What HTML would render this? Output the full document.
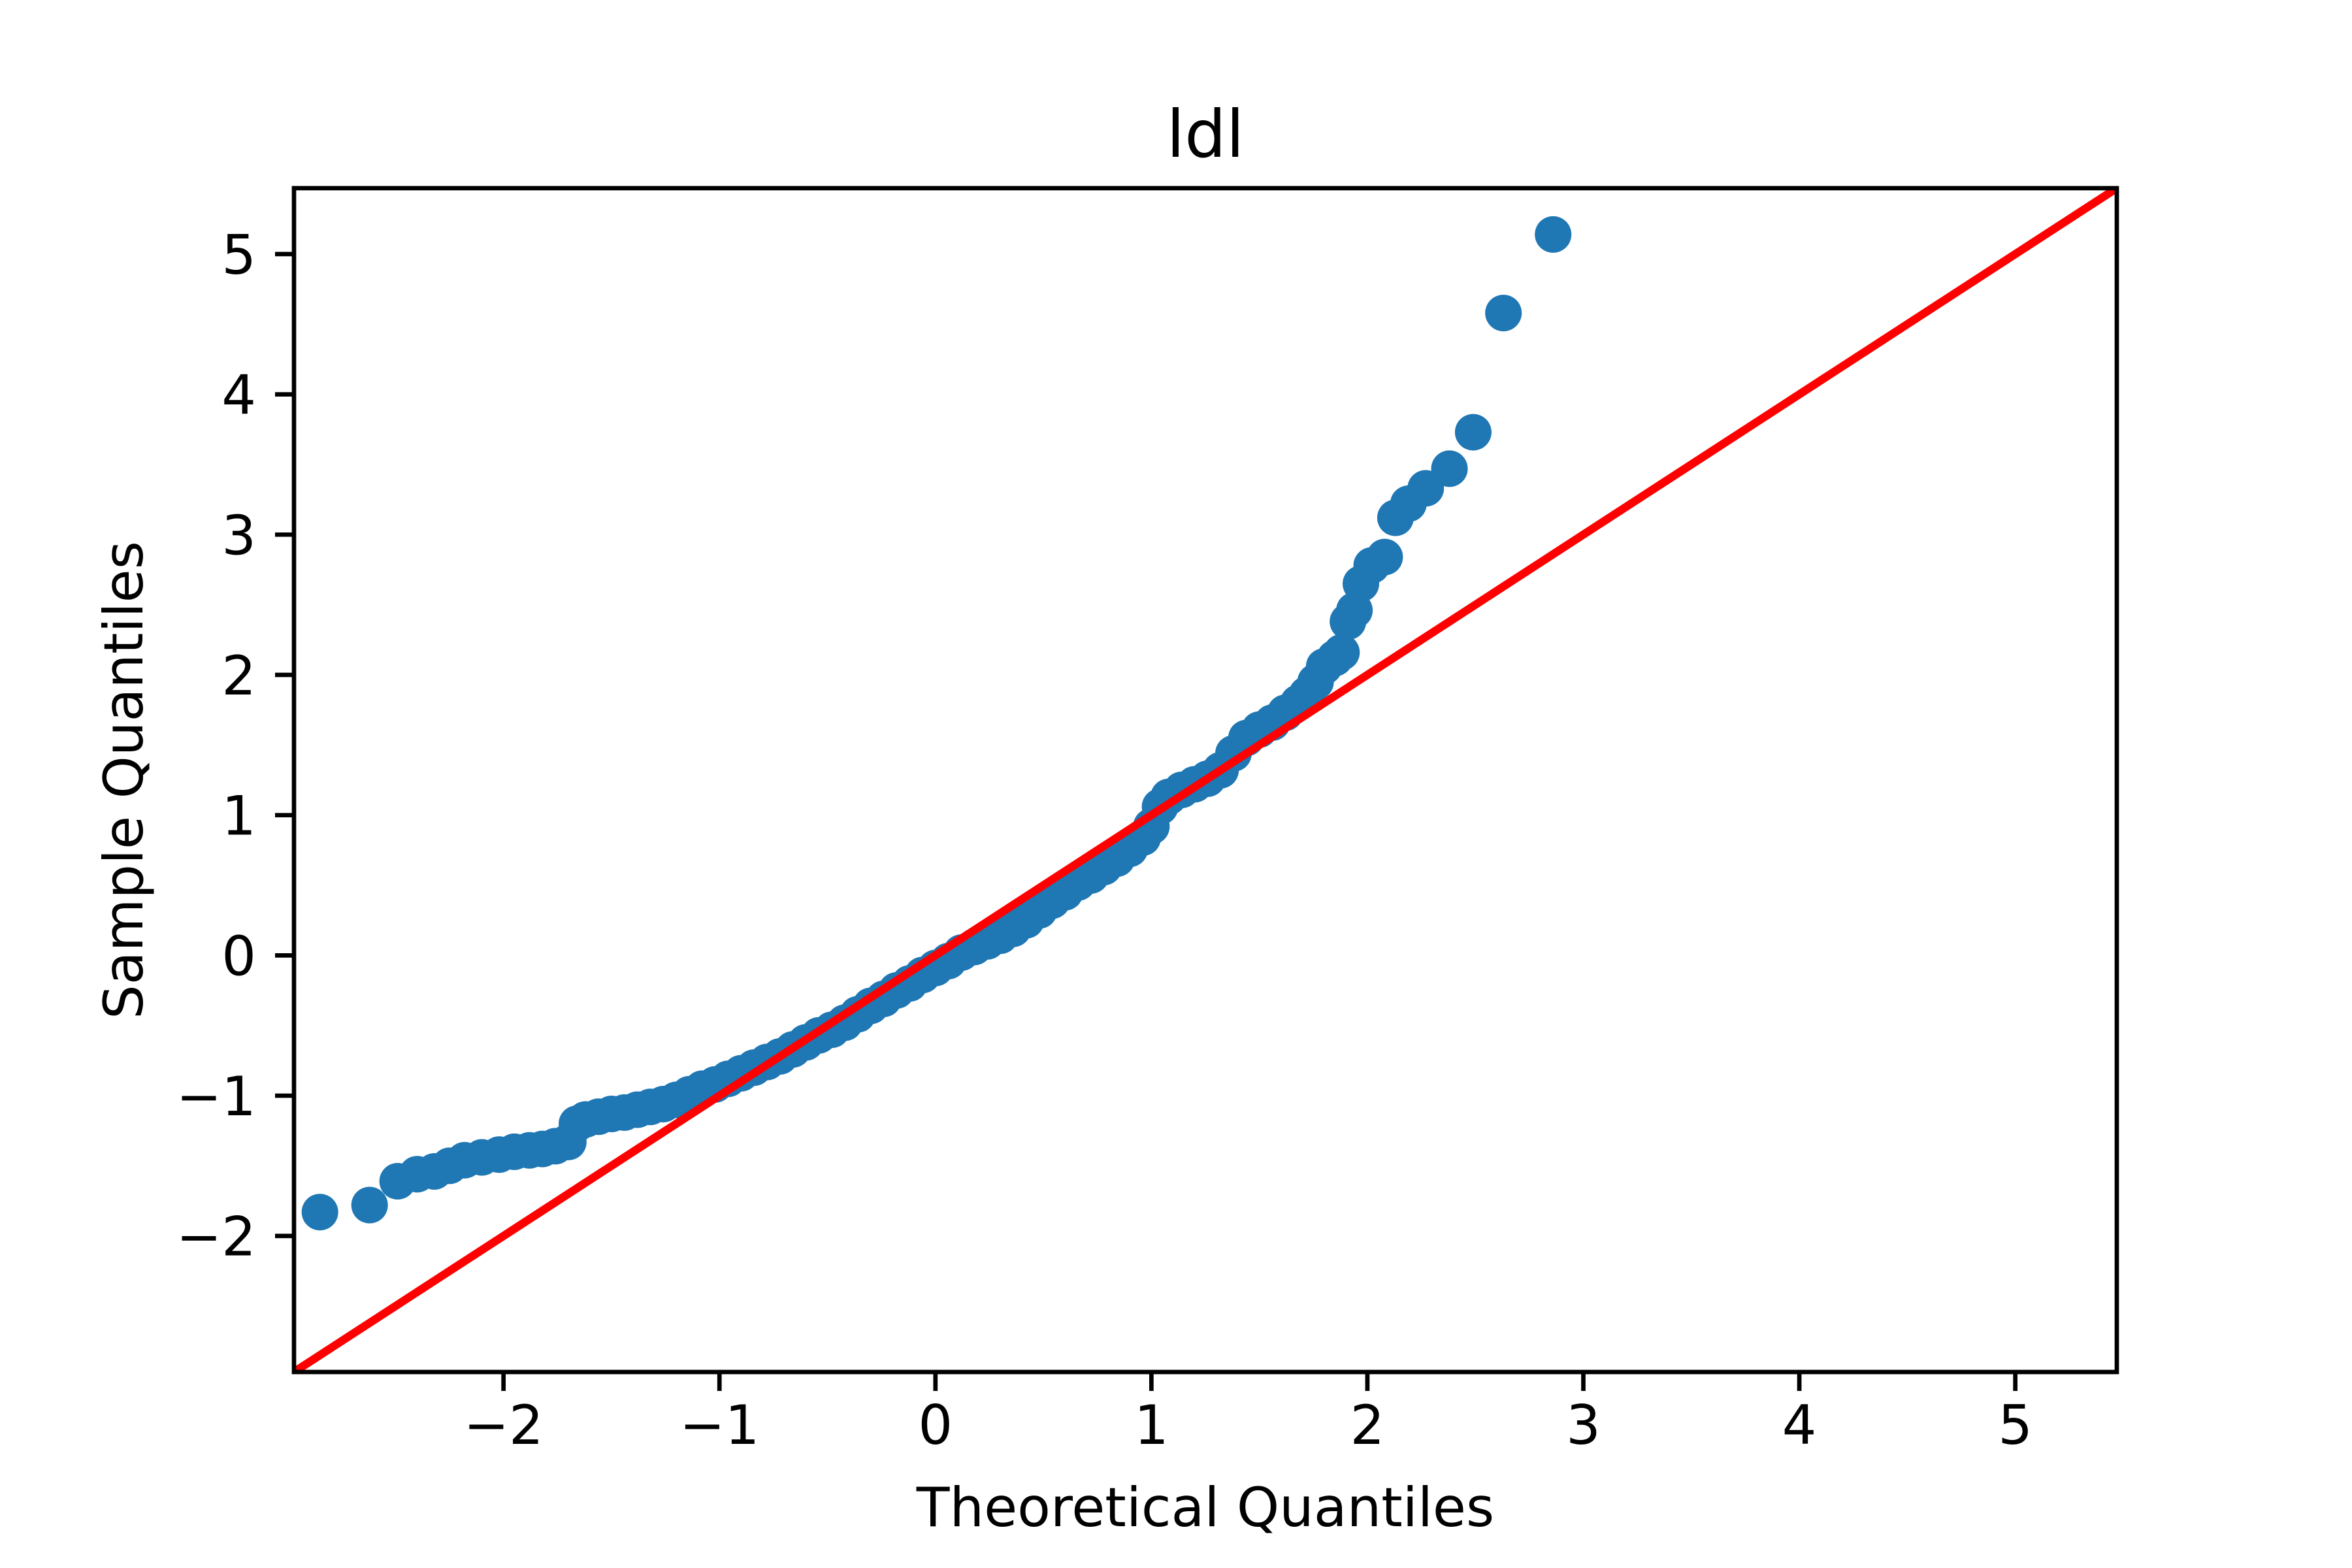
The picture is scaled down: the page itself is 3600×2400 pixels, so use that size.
<!DOCTYPE html>
<html><head><meta charset="utf-8"><style>
html,body{margin:0;padding:0;background:#fff}
svg{display:block}
text{font-family:"DejaVu Sans","Liberation Sans",sans-serif;fill:#000}
</style></head><body>
<svg id="chart" width="3600" height="2400" viewBox="0 0 3600 2400" xmlns="http://www.w3.org/2000/svg">
<rect width="3600" height="2400" fill="#fff"/>
<text x="1845" y="240" font-size="100" text-anchor="middle">ldl</text>
<g id="plot"></g>
<g id="axes"></g>
<text x="1845" y="2336" font-size="83" text-anchor="middle">Theoretical Quantiles</text>
<text transform="translate(218,1194) rotate(-90)" font-size="83" text-anchor="middle">Sample Quantiles</text>
</svg>
<script>
const theo = [-2.85,-2.62,-2.49,-2.40,-2.32,-2.25,-2.18,-2.10,-2.02,-1.95,-1.88,-1.82,-1.76,-1.70,-1.66,-1.62,-1.56,-1.50,-1.44,-1.38,-1.32,-1.26,-1.20,-1.14,-1.08,-1.02,-0.96,-0.90,-0.84,-0.78,-0.72,-0.66,-0.60,-0.54,-0.48,-0.42,-0.36,-0.30,-0.24,-0.18,-0.12,-0.06,0.00,0.06,0.12,0.18,0.24,0.30,0.36,0.42,0.48,0.54,0.60,0.66,0.72,0.78,0.84,0.90,0.96,1.00,1.04,1.08,1.14,1.20,1.26,1.32,1.38,1.44,1.50,1.56,1.62,1.68,1.72,1.76,1.80,1.85,1.88,1.91,1.94,1.97,2.02,2.08,2.13,2.19,2.27,2.38,2.49,2.63,2.86];
const sample = [-1.83,-1.78,-1.61,-1.56,-1.54,-1.50,-1.46,-1.44,-1.42,-1.40,-1.39,-1.38,-1.36,-1.33,-1.20,-1.17,-1.15,-1.13,-1.12,-1.10,-1.08,-1.06,-1.03,-0.99,-0.95,-0.92,-0.88,-0.84,-0.80,-0.76,-0.72,-0.67,-0.62,-0.57,-0.53,-0.48,-0.42,-0.36,-0.31,-0.25,-0.20,-0.14,-0.09,-0.04,0.02,0.06,0.10,0.14,0.19,0.25,0.32,0.39,0.45,0.52,0.57,0.63,0.69,0.76,0.84,0.92,1.06,1.13,1.18,1.22,1.26,1.32,1.44,1.55,1.61,1.66,1.73,1.80,1.86,1.95,2.06,2.12,2.16,2.38,2.46,2.65,2.78,2.84,3.12,3.22,3.33,3.47,3.73,4.58,5.14];
const ticksX = [-2,-1,0,1,2,3,4,5];
const ticksY = [-2,-1,0,1,2,3,4,5];
const lim = [-2.97,5.47];
const L=450,R=3240,T=288,B=2100;
const sx = v => L + (v-lim[0])/(lim[1]-lim[0])*(R-L);
const sy = v => B - (v-lim[0])/(lim[1]-lim[0])*(B-T);
const NS="http://www.w3.org/2000/svg";
const plot=document.getElementById('plot'), axes=document.getElementById('axes');
function mk(tag,attrs,parent){const e=document.createElementNS(NS,tag);for(const k in attrs)e.setAttribute(k,attrs[k]);parent.appendChild(e);return e;}
const clip=mk('clipPath',{id:'clip'},plot);mk('rect',{x:L,y:T,width:R-L,height:B-T},clip);
const g=mk('g',{'clip-path':'url(#clip)'},plot);
for(let i=0;i<theo.length;i++){
  const c=mk('circle',{cx:sx(theo[i]),cy:sy(sample[i]),r:28,fill:'#1f77b4'},g);
  
  
}
const ln=mk('line',{x1:sx(lim[0]),y1:sy(lim[0]),x2:sx(lim[1]),y2:sy(lim[1]),stroke:'#ff0000','stroke-width':12.5},g);


ticksX.forEach(t=>{
  const x=sx(t);
  const tk=mk('line',{x1:x,y1:B,x2:x,y2:B+29,stroke:'#000','stroke-width':6.7},axes);
  
  
  const tx=mk('text',{x:x,y:B+110,'font-size':83,'text-anchor':'middle'},axes);
  tx.textContent=(t<0?'\u2212'+(-t):String(t));
  
  
});
ticksY.forEach(t=>{
  const y=sy(t);
  const tk=mk('line',{x1:L-29,y1:y,x2:L,y2:y,stroke:'#000','stroke-width':6.7},axes);
  
  
  const tx=mk('text',{x:L-58,y:y+30,'font-size':83,'text-anchor':'end'},axes);
  tx.textContent=(t<0?'\u2212'+(-t):String(t));
  
  
});
const fr=mk('rect',{x:L,y:T,width:R-L,height:B-T,fill:'none',stroke:'#000','stroke-width':6.7},axes);


</script>
</body></html>
